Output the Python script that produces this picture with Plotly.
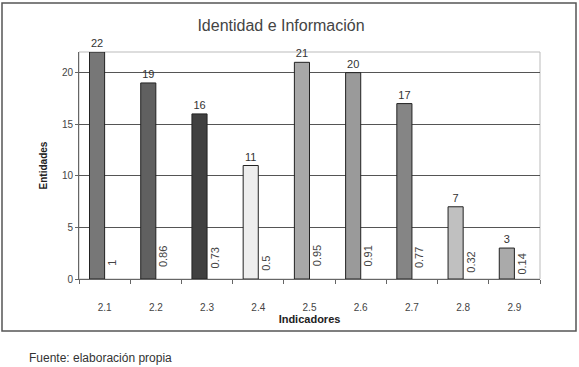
import plotly.graph_objects as go

categories = ["2.1", "2.2", "2.3", "2.4", "2.5", "2.6", "2.7", "2.8", "2.9"]
entidades = [22, 19, 16, 11, 21, 20, 17, 7, 3]
proporcion = [1, 0.86, 0.73, 0.5, 0.95, 0.91, 0.77, 0.32, 0.14]
proporcion_labels = ["1", "0.86", "0.73", "0.5", "0.95", "0.91", "0.77", "0.32", "0.14"]
bar_colors = ["#777777", "#606060", "#404040", "#eeeeee", "#a8a8a8",
              "#9a9a9a", "#858585", "#c0c0c0", "#aaaaaa"]
y_ticks = [0, 5, 10, 15, 20]

fig = go.Figure()
fig.add_trace(go.Bar(
    x=categories, y=entidades,
    marker=dict(color=bar_colors, line=dict(color="#222222", width=1)),
    text=[str(v) for v in entidades], textposition="outside",
    textfont=dict(family="Liberation Sans, Arial", size=11, color="#333333"),
    constraintext="none",
    cliponaxis=False,
))
fig.add_trace(go.Bar(
    x=categories, y=proporcion,
    marker=dict(color="rgba(255,255,255,0)", line=dict(width=0)),
    text=proporcion_labels, textposition="outside", textangle=-90,
    textfont=dict(family="Liberation Sans, Arial", size=11, color="#444444"),
    constraintext="none",
    cliponaxis=False,
))

W, H = 579, 367
L, R, T, B = 79, 39, 52, 88
pw, ph = W - L - R, H - T - B

def px(x):
    return (x - L) / pw

def py(y):
    return (H - B - y) / ph

fig.update_layout(
    width=W, height=H,
    margin=dict(l=L, r=R, t=T, b=B),
    paper_bgcolor="white", plot_bgcolor="white",
    barmode="group", bargap=0.41, bargroupgap=0,
    showlegend=False,
    font=dict(family="Liberation Sans, Arial", color="#333333"),
    title=dict(text="Identidad e Información", xref="container", x=281 / W,
               xanchor="center", yref="container", y=1 - 25 / H, yanchor="middle",
               font=dict(size=16, color="#444444")),
    xaxis=dict(
        type="category", showline=True, linecolor="#666666", linewidth=1,
        ticks="outside", tickson="boundaries", ticklen=4, tickcolor="#666666",
        ticklabelstandoff=19,
        tickfont=dict(size=10, color="#444444"),
        showgrid=False,
        title=dict(text="<b>Indicadores</b>", font=dict(size=11, color="#222222"),
                   standoff=1),
    ),
    yaxis=dict(
        range=[0, 22], tickvals=y_ticks,
        showline=True, linecolor="#666666", linewidth=1,
        ticks="outside", ticklen=3, tickcolor="#666666",
        tickfont=dict(size=10, color="#444444"),
        showgrid=True, gridcolor="#555555", gridwidth=1,
        zeroline=False,
        title=dict(text="<b>Entidades</b>", font=dict(size=10, color="#222222"),
                   standoff=12),
    ),
    shapes=[
        dict(type="rect", xref="paper", yref="paper",
             x0=0, x1=1, y0=0, y1=1,
             line=dict(color="#bbbbbb", width=1), layer="below"),
        dict(type="rect", xref="paper", yref="paper",
             x0=px(2), x1=px(576), y0=py(331), y1=py(3),
             line=dict(color="#555555", width=1.5)),
    ],
    annotations=[
        dict(text="Fuente: elaboración propia", xref="paper", yref="paper",
             x=px(27), y=py(358), xanchor="left", yanchor="middle",
             showarrow=False,
             font=dict(family="Liberation Sans Narrow, Liberation Sans, Arial",
                       size=12, color="#333333")),
    ],
)

fig.write_html("out.html", config={"displayModeBar": False},
               post_script="document.body.style.margin='0';document.body.style.overflow='hidden';")
